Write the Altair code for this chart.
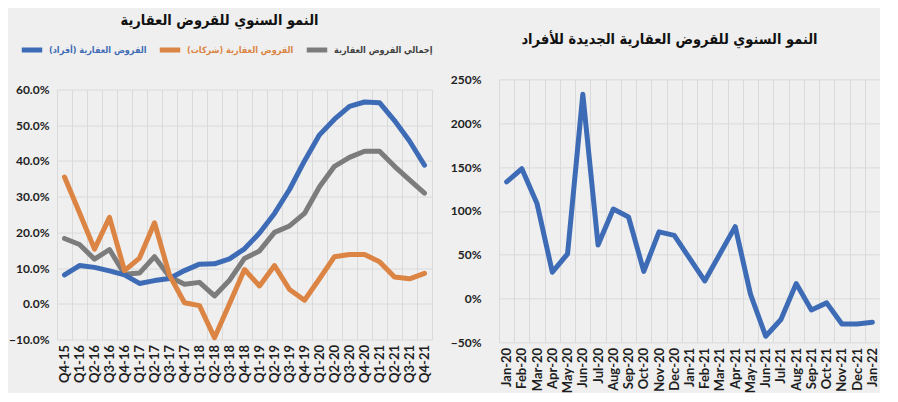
import altair as alt
import pandas as pd

# ---------------- data ----------------
quarters = ["Q4-15", "Q1-16", "Q2-16", "Q3-16", "Q4-16", "Q1-17", "Q2-17", "Q3-17",
            "Q4-17", "Q1-18", "Q2-18", "Q3-18", "Q4-18", "Q1-19", "Q2-19", "Q3-19",
            "Q4-19", "Q1-20", "Q2-20", "Q3-20", "Q4-20", "Q1-21", "Q2-21", "Q3-21", "Q4-21"]
individuals = [8.1, 10.7, 10.2, 9.2, 8.1, 5.7, 6.5, 7.1, 9.3, 11.1, 11.2, 12.6, 15.4,
               19.8, 25.3, 32.0, 40.0, 47.3, 51.7, 55.3, 56.5, 56.3, 51.3, 45.6, 38.8]
companies = [35.5, 25.5, 15.3, 24.2, 9.3, 12.8, 22.7, 8.0, 0.3, -0.5, -9.5, 0.0, 9.6,
             5.0, 10.7, 4.0, 1.0, 7.0, 13.2, 13.8, 13.8, 11.8, 7.5, 7.0, 8.5]
total = [18.3, 16.6, 12.5, 15.2, 8.3, 8.6, 13.2, 7.6, 5.5, 6.0, 2.2, 6.6, 12.7,
         14.8, 20.0, 21.8, 25.3, 32.8, 38.5, 41.0, 42.7, 42.7, 38.5, 34.7, 31.0]

months = ["Jan-20", "Feb-20", "Mar-20", "Apr-20", "May-20", "Jun-20", "Jul-20", "Aug-20",
          "Sep-20", "Oct-20", "Nov-20", "Dec-20", "Jan-21", "Feb-21", "Mar-21", "Apr-21",
          "May-21", "Jun-21", "Jul-21", "Aug-21", "Sep-21", "Oct-21", "Nov-21", "Dec-21", "Jan-22"]
new_individuals = [133, 148, 108, 30, 51, 233, 61, 102, 93, 31, 76, 72, 46, 20, 51, 82,
                   5, -43, -24, 17, -13, -5, -29, -29, -27]

name_ind = "القروض العقارية (أفراد)"
name_comp = "القروض العقارية (شركات)"
name_tot = "إجمالي القروض العقارية"
series_names = [name_ind, name_comp, name_tot]

title_left = "النمو السنوي للقروض العقارية"
title_right = "النمو السنوي للقروض العقارية الجديدة للأفراد"

y_left_ticks = [-0.1, 0.0, 0.1, 0.2, 0.3, 0.4, 0.5, 0.6]
y_right_ticks = [-0.5, 0.0, 0.5, 1.0, 1.5, 2.0, 2.5]

# ---------------- styles ----------------
BLUE = "#3e6bb5"
ORANGE = "#db8443"
GREY = "#7c7c7c"
BG = "#efefef"
GRID = "#dadada"
LABEL = "#1e1e1e"
AR_FONT = "DejaVu Sans Condensed"

rows = []
for name, vals in [(name_ind, individuals), (name_comp, companies), (name_tot, total)]:
    for q, v in zip(quarters, vals):
        rows.append({"quarter": q, "series": name, "value": v / 100.0})
df_left = pd.DataFrame(rows)
df_right = pd.DataFrame({"month": months, "value": [v / 100.0 for v in new_individuals]})


def x_axis():
    return alt.Axis(title=None, tickBand="extent", grid=True, ticks=False, domain=False,
                    labelAngle=270, labelFont="Lato", labelFontWeight="bold",
                    labelFontSize=13, labelColor=LABEL, labelPadding=5)


def y_axis(fmt, vals, pad):
    return alt.Axis(title=None, format=fmt, values=vals, grid=True, ticks=False,
                    domain=False, labelFont="Lato", labelFontWeight="bold",
                    labelFontSize=12, labelColor=LABEL, labelPadding=pad,
                    labelOverlap=False)


label_color_expr = (
    f"datum.value == '{name_ind}' ? '{BLUE}' : "
    f"(datum.value == '{name_comp}' ? '{ORANGE}' : '#404040')"
)

color_enc = alt.Color(
    "series:N",
    scale=alt.Scale(domain=series_names, range=[BLUE, ORANGE, GREY]),
    legend=alt.Legend(title=None, orient="none", direction="horizontal",
                      legendX=-38, legendY=-42,
                      symbolType="stroke", symbolStrokeWidth=5, symbolSize=420,
                      labelFont=AR_FONT, labelFontWeight="bold", labelFontSize=9,
                      labelColor=alt.ExprRef(label_color_expr),
                      columnPadding=2, labelOffset=4),
)

base_left = alt.Chart(df_left).encode(
    x=alt.X("quarter:N", sort=quarters, bandPosition=0.5,
            scale=alt.Scale(type="band", paddingInner=0, paddingOuter=0), axis=x_axis()),
    y=alt.Y("value:Q", scale=alt.Scale(domain=[-0.1, 0.6], nice=False),
            axis=y_axis(".1%", y_left_ticks, 8)),
    color=color_enc,
)

layers = []
for name in [name_tot, name_ind, name_comp]:
    layers.append(
        base_left.transform_filter(alt.datum.series == name)
        .mark_line(strokeWidth=5, strokeJoin="round", strokeCap="round")
    )

left_chart = alt.layer(*layers).properties(
    width=375, height=250,
    title=alt.Title(title_left, font=AR_FONT, fontSize=14.5, fontWeight="bold",
                    color="#111", anchor="middle", offset=55, dx=-25),
)

right_chart = alt.Chart(df_right).mark_line(
    strokeWidth=5, strokeJoin="round", strokeCap="round", color=BLUE
).encode(
    x=alt.X("month:N", sort=months, bandPosition=0.5,
            scale=alt.Scale(type="band", paddingInner=0, paddingOuter=0), axis=x_axis()),
    y=alt.Y("value:Q", scale=alt.Scale(domain=[-0.5, 2.5], nice=False),
            axis=y_axis(".0%", y_right_ticks, 18)),
).properties(
    width=381, height=263,
    title=alt.Title(title_right, font=AR_FONT, fontSize=14.5, fontWeight="bold",
                    color="#111", anchor="middle", offset=26, dx=-20),
)

# center the panels within the row so that both titles sit at the top
chart = alt.hconcat(left_chart, right_chart, spacing=18, center=True).properties(
    padding={"left": 0, "top": 5, "right": 0, "bottom": 0}
).configure(
    background=BG
).configure_view(stroke=None).configure_axis(gridColor=GRID, gridWidth=1)

chart.save("out.html", embed_options={"renderer": "svg", "actions": False})
